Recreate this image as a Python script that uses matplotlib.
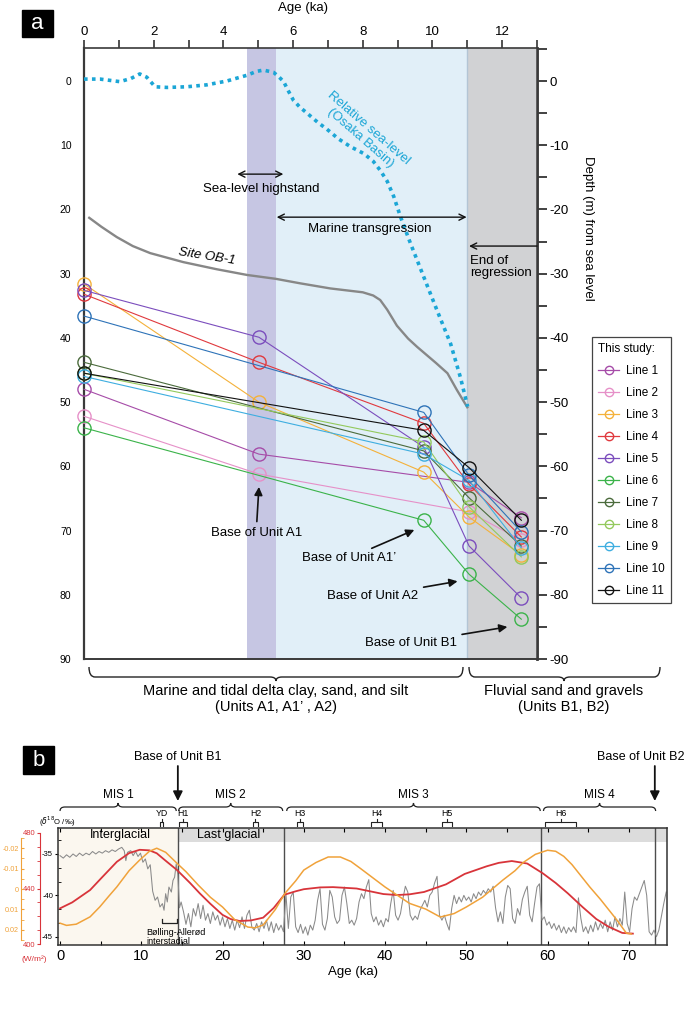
import matplotlib
matplotlib.use('Agg')
import matplotlib.pyplot as plt
from matplotlib.path import Path
from matplotlib.patches import PathPatch, Rectangle
from matplotlib.lines import Line2D
from matplotlib.ticker import MultipleLocator
from matplotlib.transforms import blended_transform_factory

plt.rcParams['font.family'] = ['Liberation Sans', 'DejaVu Sans']
plt.rcParams['axes.unicode_minus'] = False

# ---------------- panel a data ----------------
col_age = [0.0, 5.02, 9.75, 11.05, 12.55]
line_names = ['Line 1', 'Line 2', 'Line 3', 'Line 4', 'Line 5', 'Line 6',
              'Line 7', 'Line 8', 'Line 9', 'Line 10', 'Line 11']
line_colors = ['#a64ca8', '#e690c8', '#f4b13a', '#e0393e', '#7b4dbd', '#3bb34a',
               '#4b6b3c', '#93c95c', '#3eaee0', '#2e73b8', '#111111']
line1 = [48.0, 58.1, None, 62.5, 68.0]
line2 = [52.2, 61.2, None, 67.1, 71.5]
line3 = [31.6, 50.0, 60.9, 67.9, 73.8]
line4 = [33.2, 43.8, 53.3, 62.8, 71.0]
line5 = [32.6, 39.9, 57.0, 72.4, 80.5]
line6 = [54.0, None, 68.4, 76.8, 83.8]
line7 = [43.8, None, 57.6, 64.9, 72.4]
line8 = [45.5, None, 56.2, 66.3, 74.1]
line9 = [46.0, None, 58.1, 62.2, 72.7]
line10 = [36.6, None, 51.6, 61.4, 70.2]
line11 = [45.5, None, 54.4, 60.2, 68.4]
all_lines = [line1, line2, line3, line4, line5, line6, line7, line8, line9, line10, line11]

# relative sea level (Osaka Basin), depth below present (m)
sl_age = [0.0, 0.46, 1.03, 1.35, 1.6, 1.8, 2.04, 2.38, 2.95, 3.52, 4.1, 4.68, 4.95,
          5.15, 5.44, 5.6, 5.73, 5.85, 6.01, 6.2, 6.4, 6.7, 6.97, 7.3, 7.64, 8.03,
          8.3, 8.5, 8.7, 8.89, 9.08, 9.37, 9.75, 10.13, 10.52, 10.8, 11.01]
sl_depth = [-0.3, -0.3, 0.1, -0.4, -1.1, -0.6, 0.9, 1.0, 0.9, 0.6, 0.0, -0.9, -1.5,
            -1.7, -1.35, -0.6, 0.1, 1.4, 3.0, 4.1, 5.0, 6.4, 7.5, 9.0, 10.2, 11.3,
            12.5, 13.9, 15.6, 18.0, 21.1, 25.3, 30.5, 35.7, 40.9, 46.1, 50.7]

# Site OB-1
ob1_age = [0.15, 0.5, 0.94, 1.4, 1.9, 2.85, 3.8, 4.68, 5.5, 6.2, 7.07, 8.0, 8.3,
           8.5, 8.7, 8.98, 9.3, 9.56, 10.1, 10.43, 10.7, 11.0]
ob1_depth = [21.3, 22.7, 24.3, 25.7, 26.8, 28.2, 29.3, 30.2, 30.8, 31.5, 32.3, 32.9,
             33.4, 34.1, 35.6, 38.1, 40.1, 41.4, 43.9, 45.5, 48.1, 50.8]

highstand = [4.68, 5.5]
regression_end = 11.0

# ---------------- panel b data ----------------
gis_age = [0.0, 0.4, 0.8, 1.2, 1.6, 2.0, 2.4, 2.8, 3.2, 3.6,
           4.0, 4.4, 4.8, 5.2, 5.6, 6.0, 6.4, 6.8, 7.2, 7.6,
           7.9, 8.1, 8.3, 8.7, 9.0, 9.3, 9.6, 9.9, 10.2, 10.5,
           10.8, 11.1, 11.4, 11.7, 12.0, 12.3, 12.6, 12.8, 13.0, 13.2,
           13.4, 13.7, 13.9, 14.1, 14.3, 14.5, 14.7, 14.9,
           15.2, 15.5, 15.8, 16.1, 16.4, 16.7, 17.0, 17.3, 17.6, 17.9,
           18.2, 18.5, 18.8, 19.1, 19.4, 19.7, 20.0, 20.3, 20.6, 20.9,
           21.2, 21.5, 21.8, 22.1, 22.4, 22.7, 23.0, 23.3, 23.6, 23.9,
           24.2, 24.5, 24.8, 25.1, 25.4, 25.7, 26.0, 26.3, 26.6, 26.9,
           27.2, 27.5, 27.8, 28.1, 28.4, 28.7, 29.0, 29.3, 29.6, 29.9,
           30.2, 30.5, 30.8, 31.1, 31.4, 31.7, 32.0, 32.3, 32.6, 32.9,
           33.2, 33.5, 33.8, 34.1, 34.4, 34.7, 35.0, 35.3, 35.6, 35.9,
           36.2, 36.5, 36.8, 37.1, 37.4, 37.7, 38.0, 38.3, 38.6, 38.9,
           39.2, 39.5, 39.8, 40.1, 40.4, 40.7, 41.0, 41.3, 41.6, 41.9,
           42.2, 42.5, 42.8, 43.1, 43.4, 43.7, 44.0, 44.3, 44.6, 44.9,
           45.2, 45.5, 45.8, 46.1, 46.4, 46.7, 47.0, 47.3, 47.6, 47.9,
           48.2, 48.5, 48.8, 49.1, 49.4, 49.7, 50.0, 50.3, 50.6, 50.9,
           51.2, 51.5, 51.8, 52.1, 52.4, 52.7, 53.0, 53.3, 53.6, 53.9,
           54.2, 54.5, 54.8, 55.1, 55.4, 55.7, 56.0, 56.3, 56.6, 56.9,
           57.2, 57.5, 57.8, 58.1, 58.4, 58.7, 59.0, 59.3, 59.6, 59.9,
           60.2, 60.5, 60.8, 61.1, 61.4, 61.7, 62.0, 62.3, 62.6, 62.9,
           63.2, 63.5, 63.8, 64.1, 64.4, 64.7, 65.0, 65.3, 65.6, 65.9,
           66.2, 66.5, 66.8, 67.1, 67.4, 67.7, 68.0, 68.3, 68.6, 68.9,
           69.2, 69.5, 69.8, 70.1, 70.4, 70.7, 71.0, 71.3, 71.6, 71.9,
           72.2, 72.5, 72.8, 73.1, 73.4, 73.7, 74.0, 74.3, 74.6]
gis_d18o = [-35.2, -35.5, -35.1, -35.4, -35.0, -35.3, -34.9, -35.2, -34.9, -35.1,
            -34.7, -35.0, -34.7, -34.9, -34.6, -34.8, -34.5, -34.7, -34.4, -34.2,
            -34.6, -35.8, -34.8, -34.6, -35.2, -34.7, -35.3, -34.9, -36.0, -35.6,
            -36.8, -36.3, -39.5, -40.6, -40.2, -41.4, -41.0, -41.8, -39.8, -40.8,
            -39.0, -39.6, -38.2, -37.8, -36.2, -37.5, -41.5, -40.8,
            -42.0, -43.5, -42.2, -43.8, -41.6, -42.5, -41.0, -42.8, -41.2, -43.0,
            -42.2, -43.4, -42.0, -43.0, -42.4, -43.6, -42.6, -43.8, -42.8, -44.0,
            -43.0, -44.2, -43.0, -43.9, -42.6, -44.0, -42.4, -41.8, -43.8, -44.2,
            -43.4, -44.4, -43.2, -44.0, -43.0, -44.3, -43.2, -44.5, -43.4, -44.2,
            -43.6, -44.4, -39.8, -44.0, -40.2, -39.6, -43.8, -44.5, -43.5, -44.6,
            -43.8, -44.8, -43.6, -44.2, -43.0, -40.6, -39.2, -43.5, -44.2, -42.8,
            -39.4, -40.2, -42.6, -43.4, -43.0, -40.0, -39.0, -41.0, -43.4, -43.0,
            -43.6, -42.8, -40.8, -39.8, -40.4, -39.0, -38.1, -42.2, -43.2, -42.6,
            -43.6, -43.0, -43.8, -42.8, -43.2, -41.0, -39.4, -42.4, -43.0, -42.2,
            -40.4, -38.9, -39.6, -42.4, -43.0, -42.5, -42.9, -41.8, -41.2, -40.6,
            -41.4, -40.0, -39.6, -38.5, -37.7, -42.4, -43.0, -42.4, -43.4, -44.2,
            -41.6, -40.0, -41.0, -40.2, -40.8, -40.0, -40.6, -40.2, -40.8, -39.8,
            -40.4, -39.6, -40.0, -39.4, -39.8, -39.2, -39.6, -38.9, -41.5, -43.2,
            -42.0, -43.4, -40.2, -38.8, -39.2, -42.8, -43.4, -41.6, -42.4, -40.5,
            -39.6, -38.9, -42.4, -43.2, -41.0, -39.0, -38.6, -43.0, -42.6, -43.6,
            -43.2, -44.0, -43.4, -44.2, -43.6, -44.5, -43.8, -44.6, -43.9, -44.4,
            -43.8, -44.5, -40.3, -42.8, -44.4, -43.8, -44.6, -43.6, -44.4, -43.2,
            -44.2, -43.4, -44.0, -43.0, -44.4, -43.2, -44.2, -42.6, -43.8, -42.8,
            -43.6, -39.6, -43.4, -44.4, -41.6, -40.2, -40.6, -39.8, -39.0, -38.2,
            -40.0, -44.4, -44.8, -44.2, -45.0, -44.2, -42.6, -41.0, -39.6]

ins_age = [0, 1.5, 3.7, 5, 7.0, 8.5, 9.8, 11.0, 11.9, 13.0, 14.4, 16.0, 17.2, 18.5,
           20, 21, 22.1, 23.5, 25, 26.3, 27.6, 29, 30, 32, 33.6, 36.5, 39.8, 41.5,
           43, 44.8, 47.5, 49.8, 52.5, 54, 55.6, 57.5, 59.4, 61, 62.5, 64.3, 66,
           67.5, 69.2, 70.5]
ins_wm2 = [425.7, 430, 438.9, 447, 459.3, 465.5, 467.9, 467.5, 465.4, 460, 453.3,
           444, 436.5, 429, 421, 418, 416.6, 417, 419, 426, 435.5, 438, 439.5,
           440.8, 441, 440, 436, 435.3, 435.8, 437.5, 443, 450.5, 456, 458.5,
           459.8, 458, 451, 444, 436.5, 426.7, 418, 412.5, 408, 407.5]

orb_age = [0, 0.8, 2.0, 3.7, 4.9, 6.0, 7.0, 8.5, 9.8, 11.0, 11.9, 13.0, 14.4, 15.5,
           17, 18.5, 20, 21.5, 23.1, 24, 25, 26.5, 27.7, 29, 30, 31.5, 33, 34.5,
           35.8, 37, 38.5, 40, 41.5, 43, 45, 46.8, 48.5, 50, 52, 54.5, 56, 57,
           58.5, 60, 61, 62, 63, 64, 65.2, 66.5, 67.5, 68.5, 69.7, 70.3]
orb_val = [0.0167, 0.0178, 0.0172, 0.0136, 0.0087, 0.0035, -0.0011, -0.009, -0.0142,
           -0.0185, -0.0200, -0.018, -0.0126, -0.0085, -0.002, 0.004, 0.0088, 0.015,
           0.0186, 0.019, 0.0176, 0.010, 0.002, -0.004, -0.0093, -0.013, -0.0157,
           -0.0157, -0.0135, -0.010, -0.0055, -0.001, 0.003, 0.007, 0.0098, 0.0137,
           0.012, 0.0088, 0.004, -0.0044, -0.009, -0.013, -0.017, -0.019, -0.0185,
           -0.016, -0.012, -0.007, -0.001, 0.005, 0.010, 0.015, 0.0216, 0.022]

boundaries = [14.5, 27.6, 59.2, 73.2]
mis_names = ['MIS 1', 'MIS 2', 'MIS 3', 'MIS 4']
mis_start = [0.0, 14.6, 27.9, 59.5]
mis_end = [14.3, 27.4, 59.1, 73.3]
h_names = ['YD', 'H1', 'H2', 'H3', 'H4', 'H5', 'H6']
h_start = [12.3, 14.6, 23.7, 29.2, 38.3, 47.0, 59.7]
h_end = [12.7, 15.6, 24.4, 29.9, 39.6, 48.3, 63.5]

fig = plt.figure(figsize=(6.85, 10.15), dpi=100)


def brace(axo, tr, x0, x1, xm, y, h, tip, r, lw=1.0):
    verts = [(x0, y - h), (x0, y), (x0 + r, y), (xm - r, y), (xm, y), (xm, y + tip),
             (xm, y), (xm + r, y), (x1 - r, y), (x1, y), (x1, y - h)]
    codes = [Path.MOVETO, Path.CURVE3, Path.CURVE3, Path.LINETO, Path.CURVE3, Path.CURVE3,
             Path.CURVE3, Path.CURVE3, Path.LINETO, Path.CURVE3, Path.CURVE3]
    axo.add_patch(PathPatch(Path(verts, codes), transform=tr, fill=False,
                            lw=lw, edgecolor='#222222', clip_on=False))


# ================= panel a =================
ax = fig.add_axes([84 / 685, 1 - 659 / 1015, 453 / 685, 611 / 1015])
ax.set_xlim(0, 13)
ax.set_ylim(90, -5.14)
ax.axvspan(highstand[0], highstand[1], color='#c6c6e3', lw=0)
ax.axvspan(highstand[1], regression_end, color='#e1eff8', lw=0)
ax.axvspan(regression_end, 13, color='#d1d2d4', lw=0)
ax.axvline(regression_end, color='#b3c5d5', lw=1)

ax.plot(ob1_age, ob1_depth, color='#878787', lw=1.7, zorder=3)
ax.plot(sl_age, sl_depth, color='#1ba6d6', lw=2.6, ls=(0, (1.0, 1.2)), zorder=3)

for depths, c, name in zip(all_lines, line_colors, line_names):
    xs = [a for a, d in zip(col_age, depths) if d is not None]
    ys = [d for d in depths if d is not None]
    ax.plot(xs, ys, '-o', color=c, lw=0.8, ms=9.5, mfc='none', mew=1.0, zorder=4, clip_on=False)

ax.xaxis.tick_top()
ax.set_xticks(range(0, 13, 2))
ax.xaxis.set_minor_locator(MultipleLocator(1))
ax.tick_params(axis='x', which='both', direction='out', length=6, width=1.2,
               labelsize=9.5, pad=1, color='#333333')
ax.set_yticks(range(0, 91, 10))
ax.tick_params(axis='y', length=0, pad=9, labelsize=7.5)
for s in ['left', 'bottom', 'top', 'right']:
    ax.spines[s].set_color('#3a3a3a')
ax.spines['left'].set_linewidth(1.6)
ax.spines['bottom'].set_linewidth(1.4)
ax.spines['top'].set_linewidth(1.2)
ax.spines['right'].set_linewidth(1.8)

sec = ax.secondary_yaxis('right', functions=(lambda d: -d, lambda e: -e))
sec.set_yticks(range(0, -91, -10))
sec.yaxis.set_minor_locator(MultipleLocator(5))
sec.tick_params(which='both', direction='out', length=7, width=1.3, labelsize=9.5,
                pad=2, color='#333333')
sec.spines['right'].set_linewidth(1.8)
sec.spines['right'].set_color('#3a3a3a')

arrow_open = dict(lw=1.0, color='#111111', shrinkA=0, shrinkB=0, mutation_scale=11)
ax.annotate('', xy=(4.4, 14.5), xytext=(5.72, 14.5), arrowprops=dict(arrowstyle='<->', **arrow_open))
ax.text(5.1, 16.8, 'Sea-level highstand', ha='center', va='center', fontsize=9.5)
ax.annotate('', xy=(5.53, 21.2), xytext=(10.98, 21.2), arrowprops=dict(arrowstyle='<->', **arrow_open))
ax.text(8.2, 23.0, 'Marine transgression', ha='center', va='center', fontsize=9.5)
ax.annotate('', xy=(11.05, 25.7), xytext=(13.0, 25.7), arrowprops=dict(arrowstyle='->', **arrow_open))
ax.text(11.07, 29.0, 'End of\nregression', ha='left', va='center', fontsize=9.5, linespacing=1.05)
ax.text(8.05, 8.1, 'Relative sea-level\n(Osaka Basin)', ha='center', va='center', fontsize=9.5,
        color='#1ba6d6', rotation=-41, rotation_mode='anchor', linespacing=1.0)
ax.text(3.53, 27.4, 'Site OB-1', ha='center', va='center', fontsize=9.5, style='italic',
        rotation=-9, rotation_mode='anchor')

arrow_fill = dict(arrowstyle='-|>', lw=1.2, color='#111111', mutation_scale=12, shrinkA=2, shrinkB=0)
ax.annotate('Base of Unit A1', xy=(5.02, 63.2), xytext=(4.94, 70.4), ha='center', va='center',
            fontsize=9.5, arrowprops=arrow_fill)
ax.annotate('Base of Unit A1\u2019', xy=(9.48, 69.9), xytext=(7.6, 74.3), ha='center', va='center',
            fontsize=9.5, arrowprops=arrow_fill)
ax.annotate('Base of Unit A2', xy=(10.72, 77.9), xytext=(8.28, 80.2), ha='center', va='center',
            fontsize=9.5, arrowprops=arrow_fill)
ax.annotate('Base of Unit B1', xy=(12.15, 85.0), xytext=(9.37, 87.5), ha='center', va='center',
            fontsize=9.5, arrowprops=arrow_fill)

handles = [Line2D([], [], color=c, marker='o', mfc='none', ms=6, lw=0.9, mew=1.0)
           for c in line_colors]
leg = fig.legend(handles, line_names, loc='upper left', bbox_to_anchor=(592 / 685, 1 - 337 / 1015),
                 title='This study:', alignment='left', fontsize=8.5, title_fontsize=8.5,
                 frameon=True, fancybox=False, edgecolor='#444444', framealpha=1,
                 labelspacing=0.85, handlelength=1.8, handletextpad=0.6, borderpad=0.5,
                 borderaxespad=0)
leg.get_frame().set_linewidth(0.9)

# ================= panel b =================
axb = fig.add_axes([58 / 685, 1 - 945 / 1015, 609 / 685, 117 / 1015])
axb.set_xlim(-0.25, 74.7)
axb.set_ylim(-46.0, -31.86)
axb.axvspan(-0.25, boundaries[0], color='#fbf7ef', lw=0)
axb.fill_between([boundaries[0], 74.7], -33.55, -31.86, color='#dcdcdc', lw=0)
for b in boundaries:
    axb.axvline(b, color='#4d4d4d', lw=1.0)
axb.plot(gis_age, gis_d18o, color='#8a8a8a', lw=0.75)
axb.text(7.4, -32.75, 'Interglacial', ha='center', va='center', fontsize=9)
axb.text(20.7, -32.75, 'Last glacial', ha='center', va='center', fontsize=9)
axb.plot([12.5, 12.5, 14.4, 14.4], [-42.9, -43.35, -43.35, -42.9], color='#222222', lw=0.9)
axb.text(10.6, -45.0, 'B\u00f8lling-Aller\u00f8d\ninterstadial', ha='left', va='center',
         fontsize=6.5, linespacing=1.05, clip_on=False)

axb.set_xticks(range(0, 71, 10))
axb.xaxis.set_minor_locator(MultipleLocator(5))
axb.tick_params(axis='x', which='both', direction='in', top=True, length=3, width=0.8,
                labelsize=10.5, pad=3)
axb.set_yticks([-45, -40, -35])
axb.yaxis.set_minor_locator(MultipleLocator(5 / 3))
axb.tick_params(axis='y', which='major', direction='out', length=2.5, labelsize=5.5, pad=1)
axb.tick_params(axis='y', which='minor', direction='in', length=2)
for s in axb.spines.values():
    s.set_color('#333333')
    s.set_linewidth(1.1)

# spine offsets are in points (18 px and 37 px at 100 dpi)
axr = axb.twinx()
axr.set_ylim(399.3, 483.6)
axr.plot(ins_age, ins_wm2, color='#d8343a', lw=1.3)
axr.yaxis.set_ticks_position('left')
for s in ['right', 'top', 'bottom']:
    axr.spines[s].set_visible(False)
axr.spines['left'].set_visible(True)
axr.spines['left'].set_position(('outward', 13))
axr.spines['left'].set_bounds(400, 480)
axr.spines['left'].set_color('#d8343a')
axr.set_yticks([400, 440, 480])
axr.yaxis.set_minor_locator(MultipleLocator(10))
axr.tick_params(axis='y', which='both', colors='#d8343a', labelsize=5.5, length=2.5, pad=1)

axo = axb.twinx()
axo.set_ylim(0.0274, -0.0299)
axo.plot(orb_age, orb_val, color='#f0a23a', lw=1.1)
axo.yaxis.set_ticks_position('left')
for s in ['right', 'top', 'bottom']:
    axo.spines[s].set_visible(False)
axo.spines['left'].set_visible(True)
axo.spines['left'].set_position(('outward', 26.6))
axo.spines['left'].set_bounds(-0.025, 0.025)
axo.spines['left'].set_color('#f0a23a')
axo.set_yticks([-0.02, -0.01, 0, 0.01, 0.02])
axo.set_yticklabels(['-0.02', '-0.01', '0', '0.01', '0.02'])
axo.yaxis.set_minor_locator(MultipleLocator(0.005))
axo.tick_params(axis='y', which='both', direction='in', colors='#f0a23a', labelsize=5.2,
                length=2.5, pad=1.5)

# ================= overlay (labels outside the axes) =================
ov = fig.add_axes([0, 0, 1, 1])
ov.set_xlim(0, 685)
ov.set_ylim(1015, 0)
ov.axis('off')

ov.add_patch(Rectangle((22, 10), 31, 27, color='black'))
ov.text(37.5, 23, 'a', color='white', fontsize=16, ha='center', va='center')
ov.add_patch(Rectangle((23, 746), 31, 28, color='black'))
ov.text(38.5, 760, 'b', color='white', fontsize=16, ha='center', va='center')

ov.text(303, 8, 'Age (ka)', ha='center', va='center', fontsize=9.5)
ov.text(588, 228, 'Depth (m) from sea level', ha='center', va='center', fontsize=9.5, rotation=270)

brace(ov, ov.transData, 89, 463, 276, 677, 10, 4, 6)
brace(ov, ov.transData, 469, 660, 564, 677, 10, 4, 6)
ov.text(276, 684, 'Marine and tidal delta clay, sand, and silt\n(Units A1, A1\u2019 , A2)',
        ha='center', va='top', fontsize=10.5, linespacing=1.15)
ov.text(564, 684, 'Fluvial sand and gravels\n(Units B1, B2)',
        ha='center', va='top', fontsize=10.5, linespacing=1.15)

trb = blended_transform_factory(axb.transData, ov.transData)
for name, x0, x1 in zip(mis_names, mis_start, mis_end):
    xm = (x0 + x1) / 2
    brace(ov, trb, x0, x1, xm, 807, -4, -4, 0.6, lw=0.9)
    ov.text(xm, 795, name, transform=trb, ha='center', va='center', fontsize=8.5)
for name, x0, x1 in zip(h_names, h_start, h_end):
    xm = (x0 + x1) / 2
    ov.plot([x0, x0, x1, x1], [826, 822, 822, 826], transform=trb, color='#222222', lw=0.8)
    ov.plot([xm, xm], [822, 818.5], transform=trb, color='#222222', lw=0.8)
    ov.text(xm, 813, name, transform=trb, ha='center', va='center', fontsize=6.3)

for bx in [boundaries[0], boundaries[3]]:
    ov.annotate('', xy=(bx, 801), xytext=(bx, 766), xycoords=trb, textcoords=trb,
                arrowprops=dict(arrowstyle='-|>', lw=1.3, color='#111111', mutation_scale=14,
                                shrinkA=0, shrinkB=0))
ov.text(boundaries[0], 757, 'Base of Unit B1', transform=trb, ha='center', va='center', fontsize=9)
ov.text(641, 757, 'Base of Unit B2', ha='center', va='center', fontsize=9)

ov.text(57, 822, r'($\delta^{18}$O /‰)', ha='center', va='center', fontsize=5.5)
ov.text(34, 959, '(W/m\u00b2)', ha='center', va='center', fontsize=6, color='#d8343a')
ov.text(353, 972, 'Age (ka)', ha='center', va='center', fontsize=9.5)

fig.savefig('out.png', dpi=100)
